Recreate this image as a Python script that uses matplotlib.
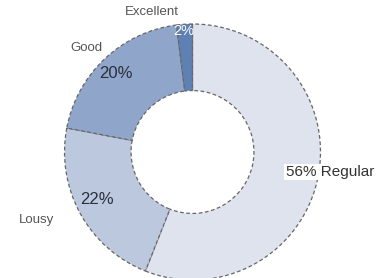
import matplotlib
matplotlib.use("Agg")
import matplotlib.pyplot as plt

categories = ["Regular", "Lousy", "Good", "Excellent"]
values = [56, 22, 20, 2]
colors = ["#dfe3ee", "#bcc8de", "#8fa5c9", "#5f80b2"]

W, H = 379, 278
fig = plt.figure(figsize=(W / 100, H / 100), dpi=100)
cx, cy, R = 192.5, 152, 128  # pixels, from top
ax = fig.add_axes([(cx - R) / W, (H - cy - R) / H, 2 * R / W, 2 * R / H])
ax.pie(values, colors=colors, startangle=90, counterclock=False, radius=1,
       wedgeprops=dict(width=0.52, edgecolor="#666666", linestyle=(0, (3, 2)), linewidth=0.9))
ax.set_xlim(-1, 1)
ax.set_ylim(-1, 1)
ax.axis("off")

def P(px, py):
    return (px - cx) / R, (cy - py) / R

font = "Liberation Sans"
pct_labels = [f"{v}%" for v in values]

# Regular label with white box
x, y = P(330, 172)
ax.text(x, y, f"{pct_labels[0]} {categories[0]}", ha="center", va="center", fontsize=11,
        color="#333333", family=font, clip_on=False,
        bbox=dict(facecolor="white", edgecolor="none", pad=1.0))
x, y = P(97, 200)
ax.text(x, y, pct_labels[1], ha="center", va="center", fontsize=12, color="#2a2f3a", family=font)
x, y = P(116, 73)
ax.text(x, y, pct_labels[2], ha="center", va="center", fontsize=12, color="#2a2f3a", family=font)
x, y = P(184, 31)
ax.text(x, y, pct_labels[3], ha="center", va="center", fontsize=10.5, color="white", family=font)

x, y = P(86, 48)
ax.text(x, y, categories[2], ha="center", va="center", fontsize=9.5, color="#555555", family=font, clip_on=False)
x, y = P(152, 12)
ax.text(x, y, categories[3], ha="center", va="center", fontsize=9.5, color="#555555", family=font, clip_on=False)
x, y = P(37, 220)
ax.text(x, y, categories[1], ha="center", va="center", fontsize=9.5, color="#555555", family=font, clip_on=False)

fig.savefig("out.png", dpi=100)
